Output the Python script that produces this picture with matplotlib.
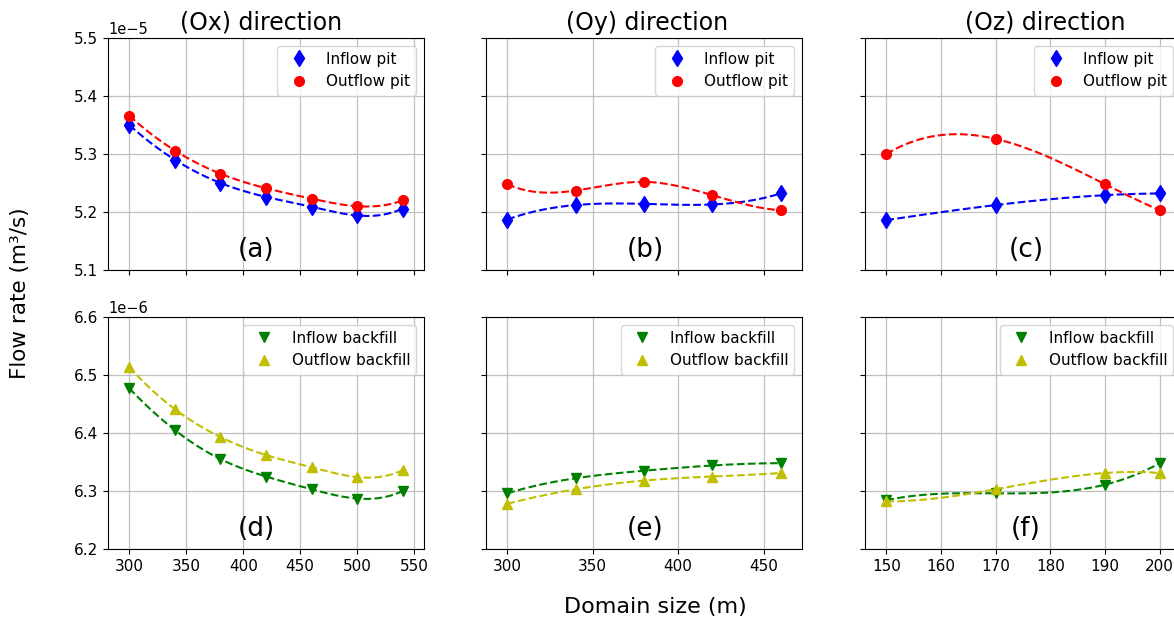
import matplotlib
matplotlib.use("Agg")
import matplotlib.pyplot as plt
import numpy as np

# domain sizes (m) for each direction
size_x = [300, 340, 380, 420, 460, 500, 540]
size_y = [300, 340, 380, 420, 460]
size_z = [150, 170, 190, 200]

# pit flow rates (x 1e-5 m3/s)
inflow_pit_x = [5.350, 5.290, 5.250, 5.226, 5.209, 5.194, 5.206]
outflow_pit_x = [5.366, 5.306, 5.266, 5.241, 5.223, 5.210, 5.220]
inflow_pit_y = [5.187, 5.212, 5.214, 5.213, 5.232]
outflow_pit_y = [5.248, 5.237, 5.252, 5.229, 5.203]
inflow_pit_z = [5.186, 5.212, 5.229, 5.232]
outflow_pit_z = [5.300, 5.326, 5.248, 5.203]

# backfill flow rates (x 1e-6 m3/s)
inflow_bf_x = [6.477, 6.405, 6.355, 6.325, 6.303, 6.287, 6.300]
outflow_bf_x = [6.514, 6.441, 6.393, 6.362, 6.341, 6.324, 6.336]
inflow_bf_y = [6.296, 6.322, 6.335, 6.344, 6.348]
outflow_bf_y = [6.278, 6.303, 6.318, 6.325, 6.331]
inflow_bf_z = [6.284, 6.296, 6.311, 6.348]
outflow_bf_z = [6.282, 6.303, 6.331, 6.331]

titles = ["(Ox) direction", "(Oy) direction", "(Oz) direction"]
panel_tags = [["(a)", "(b)", "(c)"], ["(d)", "(e)", "(f)"]]


def spline(x, y, num=200):
    # not-a-knot cubic spline through the points
    x = np.asarray(x, float)
    y = np.asarray(y, float)
    n = len(x)
    m = n - 1
    A = np.zeros((4 * m, 4 * m))
    b = np.zeros(4 * m)
    r = 0
    for i in range(m):
        h = x[i + 1] - x[i]
        A[r, 4 * i] = 1
        b[r] = y[i]
        r += 1
        A[r, 4 * i:4 * i + 4] = [1, h, h ** 2, h ** 3]
        b[r] = y[i + 1]
        r += 1
    for i in range(m - 1):
        h = x[i + 1] - x[i]
        A[r, 4 * i:4 * i + 4] = [0, 1, 2 * h, 3 * h ** 2]
        A[r, 4 * (i + 1) + 1] = -1
        r += 1
        A[r, 4 * i:4 * i + 4] = [0, 0, 2, 6 * h]
        A[r, 4 * (i + 1) + 2] = -2
        r += 1
    for i in (0, m - 2):
        A[r, 4 * i + 3] = 1
        A[r, 4 * (i + 1) + 3] = -1
        r += 1
    c = np.linalg.solve(A, b).reshape(m, 4)
    xs = np.linspace(x[0], x[-1], num)
    idx = np.clip(np.searchsorted(x, xs, side="right") - 1, 0, m - 1)
    d = xs - x[idx]
    ys = c[idx, 0] + c[idx, 1] * d + c[idx, 2] * d ** 2 + c[idx, 3] * d ** 3
    return xs, ys


rows = [
    dict(scale=1e-5, ylim=(5.1, 5.5),
         sets=[(size_x, inflow_pit_x, outflow_pit_x),
               (size_y, inflow_pit_y, outflow_pit_y),
               (size_z, inflow_pit_z, outflow_pit_z)],
         styles=[("b", "d", 8, "Inflow pit"), ("r", "o", 7, "Outflow pit")]),
    dict(scale=1e-6, ylim=(6.2, 6.6),
         sets=[(size_x, inflow_bf_x, outflow_bf_x),
               (size_y, inflow_bf_y, outflow_bf_y),
               (size_z, inflow_bf_z, outflow_bf_z)],
         styles=[("g", "v", 7, "Inflow backfill"), ("y", "^", 7, "Outflow backfill")]),
]

W, H = 1174, 621
fig = plt.figure(figsize=(W / 100, H / 100), dpi=100)

lefts = [108, 486, 865]
width = 316
tops = [38, 317]
height = 232
title_x = [0.484, 0.511, 0.570]
tag_x = [0.47, 0.505, 0.51]

for r, row in enumerate(rows):
    s = row["scale"]
    for c in range(3):
        ax = fig.add_axes([lefts[c] / W, 1 - (tops[r] + height) / H, width / W, height / H])
        xs, y_in, y_out = row["sets"][c]
        for (col, mk, ms, lab), ys in zip(row["styles"], (y_in, y_out)):
            yv = np.array(ys) * s
            sx, sy = spline(xs, yv)
            ax.plot(sx, sy, "--", color=col, lw=1.5)
            ax.plot(xs, yv, mk, color=col, ms=ms, ls="none", label=lab)
        span = xs[-1] - xs[0]
        ax.set_xlim(xs[0] - 0.078 * span, xs[-1] + 0.078 * span)
        lo, hi = row["ylim"]
        ax.set_ylim(lo * s, hi * s)
        ax.set_yticks(np.round(np.arange(lo, hi + 0.05, 0.1), 1) * s)
        ax.grid(True, color="#c0c0c0", lw=0.9)
        ax.tick_params(labelsize=11)
        ax.legend(loc="upper right", fontsize=11)
        ax.text(tag_x[c], 0.085, panel_tags[r][c], transform=ax.transAxes,
                ha="center", va="center", fontsize=19)
        if r == 0:
            ax.tick_params(labelbottom=False)
            ax.set_title(titles[c], fontsize=17, x=title_x[c])
        if c > 0:
            ax.tick_params(labelleft=False)
            ax.yaxis.offsetText.set_visible(False)
        else:
            ax.yaxis.offsetText.set_fontsize(10.5)

fig.text(20 / W, 1 - 293 / H, "Flow rate (m³/s)", rotation=90,
         ha="center", va="center", fontsize=15.5)
fig.text(655 / W, 1 - 607 / H, "Domain size (m)", ha="center", va="center", fontsize=16)

fig.savefig("out.png", dpi=100)
